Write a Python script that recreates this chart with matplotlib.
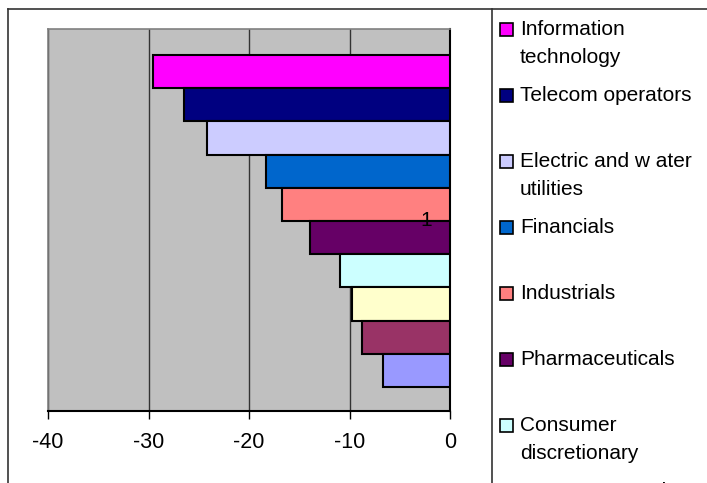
import matplotlib
matplotlib.use('Agg')
import matplotlib.pyplot as plt
from matplotlib.patches import Rectangle
from matplotlib.lines import Line2D

plt.rcParams['font.family'] = ['Liberation Sans', 'DejaVu Sans']

# sectors, top to bottom
sectors = ['Information\ntechnology', 'Telecom operators', 'Electric and w ater\nutilities',
           'Financials', 'Industrials', 'Pharmaceuticals', 'Consumer\ndiscretionary',
           'Consumer staples', 'Materials', 'Energy']
values = [-29.6, -26.5, -24.2, -18.3, -16.7, -13.9, -10.9, -9.75, -8.75, -6.7]
colors = ['#FF00FF', '#000080', '#CCCCFF', '#0066CC', '#FF8080',
          '#660066', '#CCFFFF', '#FFFFCC', '#993366', '#9999FF']
xticks = [-40, -30, -20, -10, 0]
category_label = '1'

W, H = 707, 483
fig = plt.figure(figsize=(W / 100, H / 100), dpi=100)

# chart area / legend frame lines
fig.add_artist(Line2D([8 / W, 8 / W], [0, 1 - 9 / H], color='#333333', lw=1.2))
fig.add_artist(Line2D([8 / W, 1], [1 - 9 / H, 1 - 9 / H], color='#333333', lw=1.2))
fig.add_artist(Line2D([492 / W, 492 / W], [0, 1 - 9 / H], color='#333333', lw=1.2))

ax = fig.add_axes([48 / W, (H - 411) / H, 402 / W, 382 / H])
ax.set_facecolor('#C0C0C0')

ypos = list(range(len(values)))
ax.barh(ypos, values, height=1.0, color=colors, edgecolor='black', linewidth=1.5, zorder=3)

ax.set_xlim(-40, 0)
ax.set_ylim(len(values) - 0.5 + 0.72, -0.5 - 0.78)
ax.set_xticks(xticks)
ax.set_xticklabels([str(t) for t in xticks], fontsize=15.5)
ax.set_yticks([])
ax.tick_params(axis='x', direction='out', length=6, width=1, pad=9, color='black')
ax.grid(axis='x', color='#333333', linewidth=1, zorder=1)

for side in ['left', 'top']:
    ax.spines[side].set_color('#808080')
    ax.spines[side].set_linewidth(1.2)
ax.spines['right'].set_color('black')
ax.spines['right'].set_linewidth(1.5)
ax.spines['bottom'].set_color('black')
ax.spines['bottom'].set_linewidth(1.5)

ax.annotate(category_label, xy=(0, (len(values) - 1) / 2), xytext=(-13, 0),
            textcoords='offset points', ha='right', va='center', fontsize=15, zorder=5)

# legend drawn by hand, Excel style (runs off the bottom)
y0 = 29.5
step = 66
for i, (name, c) in enumerate(zip(sectors, colors)):
    yc = y0 + step * i
    fig.add_artist(Rectangle((500 / W, 1 - (yc + 6.5) / H), 13 / W, 13 / H,
                             facecolor=c, edgecolor='black', lw=1.2))
    for j, line in enumerate(name.split('\n')):
        fig.text(520 / W, 1 - (yc + 28 * j) / H, line, fontsize=15, va='center', ha='left')

fig.savefig('out.png', dpi=100)
